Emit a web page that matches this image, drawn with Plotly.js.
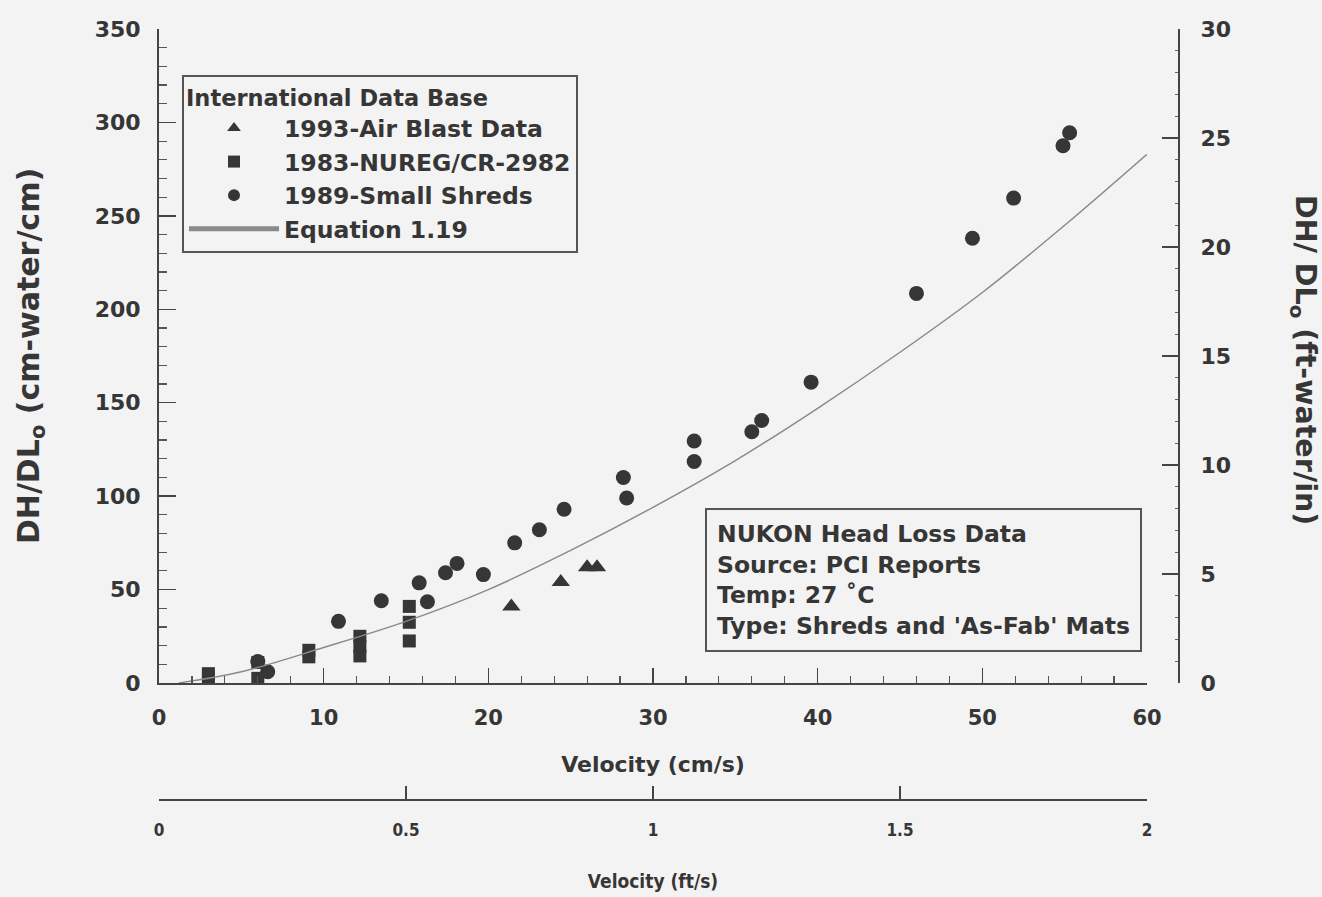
<!DOCTYPE html>
<html>
<head>
<meta charset="utf-8">
<script src="https://cdn.plot.ly/plotly-3.0.1.min.js"></script>
<style>html,body{margin:0;padding:0;background:#f3f3f3;}#chart{width:1322px;height:897px;}</style>
</head>
<body>
<div id="chart"></div>
<script>
// 1993-Air Blast Data
const airBlastV = [21.4, 24.4, 26.0, 26.6];
const airBlastH = [41, 54, 62, 62];
// 1983-NUREG/CR-2982
const nuregV = [3.0, 3.0, 6.0, 6.0, 9.1, 9.1, 12.2, 12.2, 12.2, 15.2, 15.2, 15.2];
const nuregH = [5, 3, 11, 2.5, 17.5, 14, 25, 19.5, 14.5, 41, 32.5, 22.5];
// 1989-Small Shreds
const shredsV = [6.0, 6.6, 10.9, 13.5, 15.8, 16.3, 17.4, 18.1, 19.7, 21.6, 23.1, 24.6, 28.2, 28.4,
                 32.5, 32.5, 36.0, 36.6, 39.6, 46.0, 49.4, 51.9, 54.9, 55.3];
const shredsH = [11.5, 6, 33, 44, 53.6, 43.5, 59, 64, 58, 75, 82, 93, 110, 99,
                 129.5, 118.5, 134.5, 140.5, 161, 208.5, 238, 259.5, 287.5, 294.5];
// Equation 1.19
const eqV = [1.2, 5, 10, 15, 20, 25, 30, 35, 40, 45, 50, 55, 60];
const eqH = [0, 6, 19, 33, 50, 71, 94, 119, 147, 177, 209, 245, 283];

// secondary scales (ft/s and ft-water/in)
const ftPerSecTicks = [0, 0.5, 1, 1.5, 2];
const ftWaterTicks = [0, 5, 10, 15, 20, 25, 30];

const legendTitle = 'International Data Base';
const seriesNames = ['1993-Air Blast Data', '1983-NUREG/CR-2982', '1989-Small Shreds', 'Equation 1.19'];
const boxLines = ['NUKON Head Loss Data', 'Source: PCI Reports', 'Temp: 27 \u02daC', "Type: Shreds and 'As-Fab' Mats"];

const ink = '#363636';
const FAM = 'DejaVu Sans, Liberation Sans, Arial, sans-serif';
const COND = 'DejaVu Sans Condensed, DejaVu Sans, sans-serif';

const traces = [
  {x: airBlastV, y: airBlastH, name: seriesNames[0], mode: 'markers', type: 'scatter',
   marker: {symbol: 'triangle-up', size: 16, color: ink}},
  {x: nuregV, y: nuregH, name: seriesNames[1], mode: 'markers', type: 'scatter',
   marker: {symbol: 'square', size: 13, color: ink}},
  {x: shredsV, y: shredsH, name: seriesNames[2], mode: 'markers', type: 'scatter',
   marker: {symbol: 'circle', size: 15, color: ink}},
  {x: eqV, y: eqH, name: seriesNames[3], mode: 'lines', type: 'scatter',
   line: {color: '#8a8a8a', width: 1.5, shape: 'spline'}},
  // carrier for the secondary (ft/s, ft-water/in) axes; draws no marks
  {x: ftPerSecTicks, y: ftPerSecTicks.map(() => null), xaxis: 'x2', yaxis: 'y2',
   mode: 'markers', type: 'scatter', showlegend: false, hoverinfo: 'skip',
   marker: {opacity: 0}}
];

const yDomBottom = (800 - 683) / 771;
const xDomRight = (1147 - 159) / 1020;

const layout = {
  width: 1322, height: 897,
  margin: {l: 159, r: 143, t: 29, b: 97},
  paper_bgcolor: '#f3f3f3', plot_bgcolor: '#f3f3f3',
  font: {family: FAM, color: ink, weight: 'bold'},
  showlegend: true,
  legend: {
    x: (182 - 159) / 1020, y: (800 - 75) / 771, xanchor: 'left', yanchor: 'top',
    bordercolor: '#555', borderwidth: 2, bgcolor: 'rgba(0,0,0,0)',
    font: {size: 23.5, family: FAM, color: ink, weight: 'bold'},
    title: {text: legendTitle, font: {size: 22.5, family: FAM, color: ink, weight: 'bold'}},
    itemsizing: 'constant', itemwidth: 90, traceorder: 'normal'
  },
  xaxis: {
    domain: [0, xDomRight], range: [0, 60], anchor: 'y',
    showline: true, linecolor: '#444', linewidth: 2, mirror: false,
    showgrid: false, zeroline: false,
    ticks: 'inside', ticklen: 15, tickwidth: 1.5, tickcolor: '#444', dtick: 10, tick0: 0,
    minor: {dtick: 2, ticks: 'inside', ticklen: 7, tickwidth: 1.2, tickcolor: '#555'},
    tickfont: {size: 21, family: FAM, color: ink, weight: 'bold'},
    ticklabelstandoff: 15,
    title: {text: 'Velocity (cm/s)', font: {size: 22, family: FAM, color: ink, weight: 'bold'}, standoff: 27}
  },
  xaxis2: {
    overlaying: 'x', anchor: 'free', position: 0, side: 'bottom', range: [0, 2],
    showline: true, linecolor: '#444', linewidth: 2,
    showgrid: false, zeroline: false,
    tickvals: ftPerSecTicks, ticktext: ftPerSecTicks.map(String),
    ticks: 'inside', ticklen: 13, tickwidth: 1.5, tickcolor: '#444',
    tickfont: {size: 17, family: COND, color: ink, weight: 'bold'},
    ticklabelstandoff: 15,
    title: {text: 'Velocity (ft/s)', font: {size: 19, family: COND, color: ink, weight: 'bold'}, standoff: 34}
  },
  yaxis: {
    domain: [yDomBottom, 1], range: [0, 350], anchor: 'x',
    showline: true, linecolor: '#444', linewidth: 2,
    showgrid: false, zeroline: false,
    ticks: 'inside', ticklen: 17, tickwidth: 1.5, tickcolor: '#444', dtick: 50, tick0: 0,
    minor: {dtick: 10, ticks: 'inside', ticklen: 8, tickwidth: 1.2, tickcolor: '#555'},
    tickfont: {size: 22, family: FAM, color: ink, weight: 'bold'},
    ticklabelstandoff: 12,
    title: {text: 'DH/DL<sub>o</sub> (cm-water/cm)', font: {size: 30, family: FAM, color: ink, weight: 'bold'}, standoff: 46}
  },
  yaxis2: {
    overlaying: 'y', anchor: 'free', position: 1, side: 'right', range: [0, 30],
    showline: true, linecolor: '#444', linewidth: 2,
    showgrid: false, zeroline: false,
    tickvals: ftWaterTicks, ticktext: ftWaterTicks.map(String),
    ticks: 'inside', ticklen: 16, tickwidth: 1.5, tickcolor: '#444',
    minor: {dtick: 1, ticks: 'inside', ticklen: 3, tickwidth: 1, tickcolor: '#666'},
    tickfont: {size: 22, family: FAM, color: ink, weight: 'bold'},
    ticklabelstandoff: 16
  },
  annotations: [
    {xref: 'paper', yref: 'paper', x: (705 - 159) / 1020, y: (800 - 508) / 771,
     xanchor: 'left', yanchor: 'top', align: 'left', showarrow: false,
     text: boxLines.join('<br>'), bordercolor: '#555', borderwidth: 2, borderpad: 10,
     font: {size: 23.5, family: FAM, color: ink, weight: 'bold'}},
    {xref: 'paper', yref: 'paper', x: (1304 - 159) / 1020, y: (800 - 360) / 771,
     xanchor: 'center', yanchor: 'middle', showarrow: false, textangle: 90,
     text: 'DH/ DL<sub>o</sub> (ft-water/in)',
     font: {size: 28.5, family: FAM, color: ink, weight: 'bold'}}
  ]
};

Plotly.newPlot('chart', traces, layout, {displayModeBar: false, staticPlot: true});
</script>
</body>
</html>
